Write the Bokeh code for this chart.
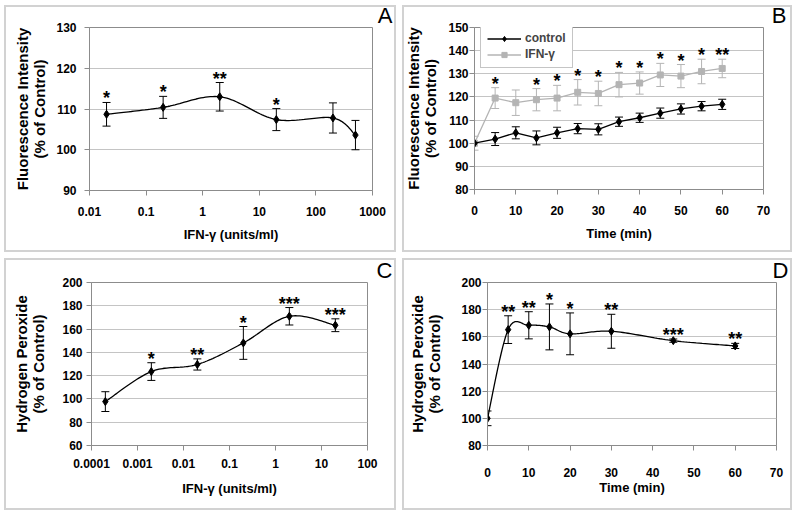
import numpy as np
from bokeh.plotting import figure
from bokeh.models import (Range1d, FixedTicker, CustomJSTickFormatter, Whisker, TeeHead,
                          ColumnDataSource, Legend, LegendItem)
from bokeh.layouts import column, row
from bokeh.embed import file_html
from bokeh.resources import INLINE
from bokeh.core.properties import value

# ---------------- data ----------------
# Panel A: fluorescence vs IFN-gamma dose
a_dose = [0.02, 0.2, 2, 20, 200, 500]
a_mean = [108.7, 110.4, 113.0, 107.4, 107.8, 103.6]
a_err = [2.9, 2.7, 3.5, 2.7, 3.7, 3.6]
a_stars = ["*", "*", "**", "*", "", ""]

# Panel B: fluorescence vs time
b_time = [0, 5, 10, 15, 20, 25, 30, 35, 40, 45, 50, 55, 60]
b_control = [100.0, 101.8, 104.5, 102.3, 104.5, 106.3, 106.0, 109.3, 111.0, 113.0, 114.8, 116.0, 116.8]
b_control_err = [0.0, 2.8, 2.6, 3.0, 2.4, 2.2, 2.4, 2.0, 2.0, 2.2, 2.2, 2.0, 2.2]
b_ifn = [100.0, 119.5, 117.5, 118.8, 119.5, 122.0, 121.5, 125.3, 126.0, 129.5, 129.0, 131.0, 132.3]
b_ifn_err = [3.0, 4.5, 5.5, 4.8, 5.5, 5.5, 5.3, 5.3, 4.8, 5.0, 5.0, 5.3, 4.0]
b_stars = ["", "*", "", "*", "*", "*", "*", "*", "*", "*", "*", "*", "**"]

# Panel C: hydrogen peroxide vs IFN-gamma dose
c_dose = [0.0002, 0.002, 0.02, 0.2, 2, 20]
c_mean = [97.7, 123.5, 129.6, 148.1, 171.0, 163.3]
c_err = [8.5, 7.6, 4.8, 14.1, 7.5, 5.5]
c_stars = ["", "*", "**", "*", "***", "***"]

# Panel D: hydrogen peroxide vs time
d_time = [0, 5, 10, 15, 20, 30, 45, 60]
d_mean = [100.0, 165.3, 168.5, 167.3, 162.2, 164.1, 157.2, 153.3]
d_err = [5.4, 10.2, 10.0, 16.9, 15.4, 12.5, 1.2, 1.9]
d_stars = ["", "**", "**", "*", "*", "**", "***", "**"]

FONT = "Liberation Sans"
GRID = "#c4c4c4"
AXIS = "#8c8c8c"
GRAY = "#b4b4b4"
PANEL = "#d2d2d2"


def smooth(xs, ys, n=24):
    """Excel-like smoothed line through the points (Catmull-Rom Bezier)."""
    xs = np.asarray(xs, float)
    ys = np.asarray(ys, float)
    P = np.column_stack([xs, ys])
    out = [P[0]]
    m = len(P)
    for i in range(m - 1):
        p0 = P[i - 1] if i > 0 else P[i]
        p1, p2 = P[i], P[i + 1]
        p3 = P[i + 2] if i + 2 < m else P[i + 1]
        c1 = p1 + (p2 - p0) / 6.0
        c2 = p2 - (p3 - p1) / 6.0
        t = np.linspace(0, 1, n + 1)[1:, None]
        seg = ((1 - t) ** 3) * p1 + 3 * ((1 - t) ** 2) * t * c1 + 3 * (1 - t) * t ** 2 * c2 + t ** 3 * p2
        out.extend(seg)
    out = np.array(out)
    return out[:, 0], out[:, 1]


def panel_style(l, t, r, b, w=2):
    g = f"linear-gradient({PANEL},{PANEL})"
    return {
        "background-color": "white",
        "background-image": ",".join([g] * 4),
        "background-size": (f"calc(100% - {l + r}px) {w}px, calc(100% - {l + r}px) {w}px, "
                            f"{w}px calc(100% - {t + b}px), {w}px calc(100% - {t + b}px)"),
        "background-position": (f"left {l}px top {t}px, left {l}px bottom {b}px, "
                                f"left {l}px top {t}px, right {r}px top {t}px"),
        "background-repeat": "no-repeat",
    }


def make_fig(letter, loff, xr, yr, log, yticks, xticks, ylabel, xlabel, borders, frame,
             ystand, xstand, pstyle):
    left, right, bottom = borders
    fw, fh = frame
    p = figure(frame_width=fw, frame_height=fh,
               min_border_left=left, min_border_right=right,
               min_border_top=0, min_border_bottom=bottom,
               x_range=Range1d(*xr), y_range=Range1d(*yr),
               x_axis_type="log" if log else "linear",
               output_backend="svg", toolbar_location=None,
               background_fill_color="white", border_fill_color=None,
               title=letter, styles=panel_style(*pstyle))
    p.title.align = "right"
    p.title.offset = loff
    p.title.standoff = 0
    p.title.text_font = FONT
    p.title.text_font_style = "normal"
    p.title.text_font_size = "22px"
    p.title.text_color = "black"
    p.outline_line_color = AXIS
    p.outline_line_width = 1
    p.xgrid.grid_line_color = None
    p.ygrid.grid_line_color = GRID
    p.ygrid.grid_line_width = 1
    p.yaxis.ticker = FixedTicker(ticks=yticks, minor_ticks=[])
    p.xaxis.ticker = FixedTicker(ticks=xticks, minor_ticks=[])
    if log:
        p.xaxis.formatter = CustomJSTickFormatter(code="return tick.toString();")
    for ax in (p.xaxis[0], p.yaxis[0]):
        ax.axis_line_color = AXIS
        ax.major_tick_line_color = AXIS
        ax.minor_tick_line_color = None
        ax.major_tick_out = 5
        ax.major_tick_in = 0
        ax.major_label_text_font = FONT
        ax.major_label_text_font_style = "bold"
        ax.major_label_text_font_size = "12px"
        ax.major_label_text_color = "black"
        ax.axis_label_text_font = FONT
        ax.axis_label_text_font_style = "bold"
        ax.axis_label_text_color = "black"
    p.yaxis.axis_label = ylabel
    p.yaxis.axis_label_text_font_size = "15px"
    p.yaxis.axis_label_text_line_height = 1.0
    p.xaxis.axis_label = xlabel
    p.xaxis.axis_label_text_font_size = "13px"
    p.yaxis.major_label_standoff = ystand[0]
    p.yaxis.axis_label_standoff = ystand[1]
    p.xaxis.major_label_standoff = xstand[0]
    p.xaxis.axis_label_standoff = xstand[1]
    return p


def add_series(p, xs, ys, errs, stars, color, marker, msize, smooth_line, log, star_off=-4):
    if smooth_line:
        if log:
            lx, ly = smooth(np.log10(xs), ys)
            lx = 10 ** lx
        else:
            lx, ly = smooth(xs, ys)
    else:
        lx, ly = list(xs), list(ys)
    line = p.line(lx, ly, line_color=color, line_width=1.3)
    keep = [i for i, e in enumerate(errs) if e > 0]
    src = ColumnDataSource(dict(x=[xs[i] for i in keep],
                                upper=[ys[i] + errs[i] for i in keep],
                                lower=[ys[i] - errs[i] for i in keep]))
    w = Whisker(source=src, base="x", upper="upper", lower="lower", dimension="height",
                line_color=color, line_width=1,
                upper_head=TeeHead(size=8, line_color=color, line_width=1),
                lower_head=TeeHead(size=8, line_color=color, line_width=1),
                level="glyph")
    p.add_layout(w)
    pts = p.scatter(xs, ys, marker=marker, size=msize, fill_color=color, line_color=color)
    if stars is not None:
        sx = [xs[i] for i, s in enumerate(stars) if s]
        sy = [ys[i] + errs[i] for i, s in enumerate(stars) if s]
        st = [s for s in stars if s]
        p.text(x=sx, y=sy, text=st, text_font=value(FONT), text_font_style="bold",
               text_font_size="18px", text_align="center", text_baseline="alphabetic",
               y_offset=star_off, text_color="black")
    return line, pts


# ---------------- Panel A ----------------
pa = make_fig("A", -20, (0.01, 1000), (90, 130), True, [90, 100, 110, 120, 130],
              [0.01, 0.1, 1, 10, 100, 1000],
              "Fluorescence Intensity\n(% of Control)", "IFN-γ (units/ml)",
              (89, 28, 65), (283, 163), (8, 5), (11, 8), (4, 5, 4, 3))
add_series(pa, a_dose, a_mean, a_err, a_stars, "black", "diamond", 8, True, True)

# ---------------- Panel B ----------------
pb = make_fig("B", -23, (0, 70), (80, 150), False, [80, 90, 100, 110, 120, 130, 140, 150],
              [0, 10, 20, 30, 40, 50, 60, 70],
              "Fluorescence Intensity\n(% of Control)", "Time (min)",
              (74, 33, 66), (289, 162), (1, 6), (11, 8), (2, 5, 4, 3))
li, pi = add_series(pb, b_time, b_ifn, b_ifn_err, b_stars, GRAY, "square", 6, False, False)
lc, pc = add_series(pb, b_time, b_control, b_control_err, None, "black", "diamond", 8, False, False)
legend = Legend(items=[LegendItem(label="control", renderers=[lc, pc]),
                       LegendItem(label="IFN-γ", renderers=[li, pi])],
                location=(6, 121), margin=0, padding=6, spacing=2,
                label_text_font=FONT, label_text_font_style="bold", label_text_font_size="12px",
                label_height=13, glyph_height=13, glyph_width=34, label_standoff=4,
                border_line_color=AXIS, border_line_width=1,
                background_fill_color="white", background_fill_alpha=1)
pb.add_layout(legend)

# ---------------- Panel C ----------------
pc_ = make_fig("C", -25, (0.0001, 100), (60, 200), True, [60, 80, 100, 120, 140, 160, 180, 200],
               [0.0001, 0.001, 0.01, 0.1, 1, 10, 100],
               "Hydrogen Peroxide\n(% of Control)", "IFN-γ (units/ml)",
               (91, 33, 69), (276, 163), (4, 12), (8, 10), (4, 3, 4, 4))
add_series(pc_, c_dose, c_mean, c_err, c_stars, "black", "diamond", 8, True, True)

# ---------------- Panel D ----------------
pd_ = make_fig("D", -12, (0, 70), (80, 200), False, [80, 100, 120, 140, 160, 180, 200],
               [0, 10, 20, 30, 40, 50, 60, 70],
               "Hydrogen Peroxide\n(% of Control)", "Time (min)",
               (87, 20, 69), (289, 163), (1, 15), (17, 0), (2, 3, 4, 4))
add_series(pd_, d_time, d_mean, d_err, d_stars, "black", "diamond", 8, True, False)

layout = column(row(pa, pb), row(pc_, pd_))
open("out.html", "w").write(file_html(layout, INLINE))
